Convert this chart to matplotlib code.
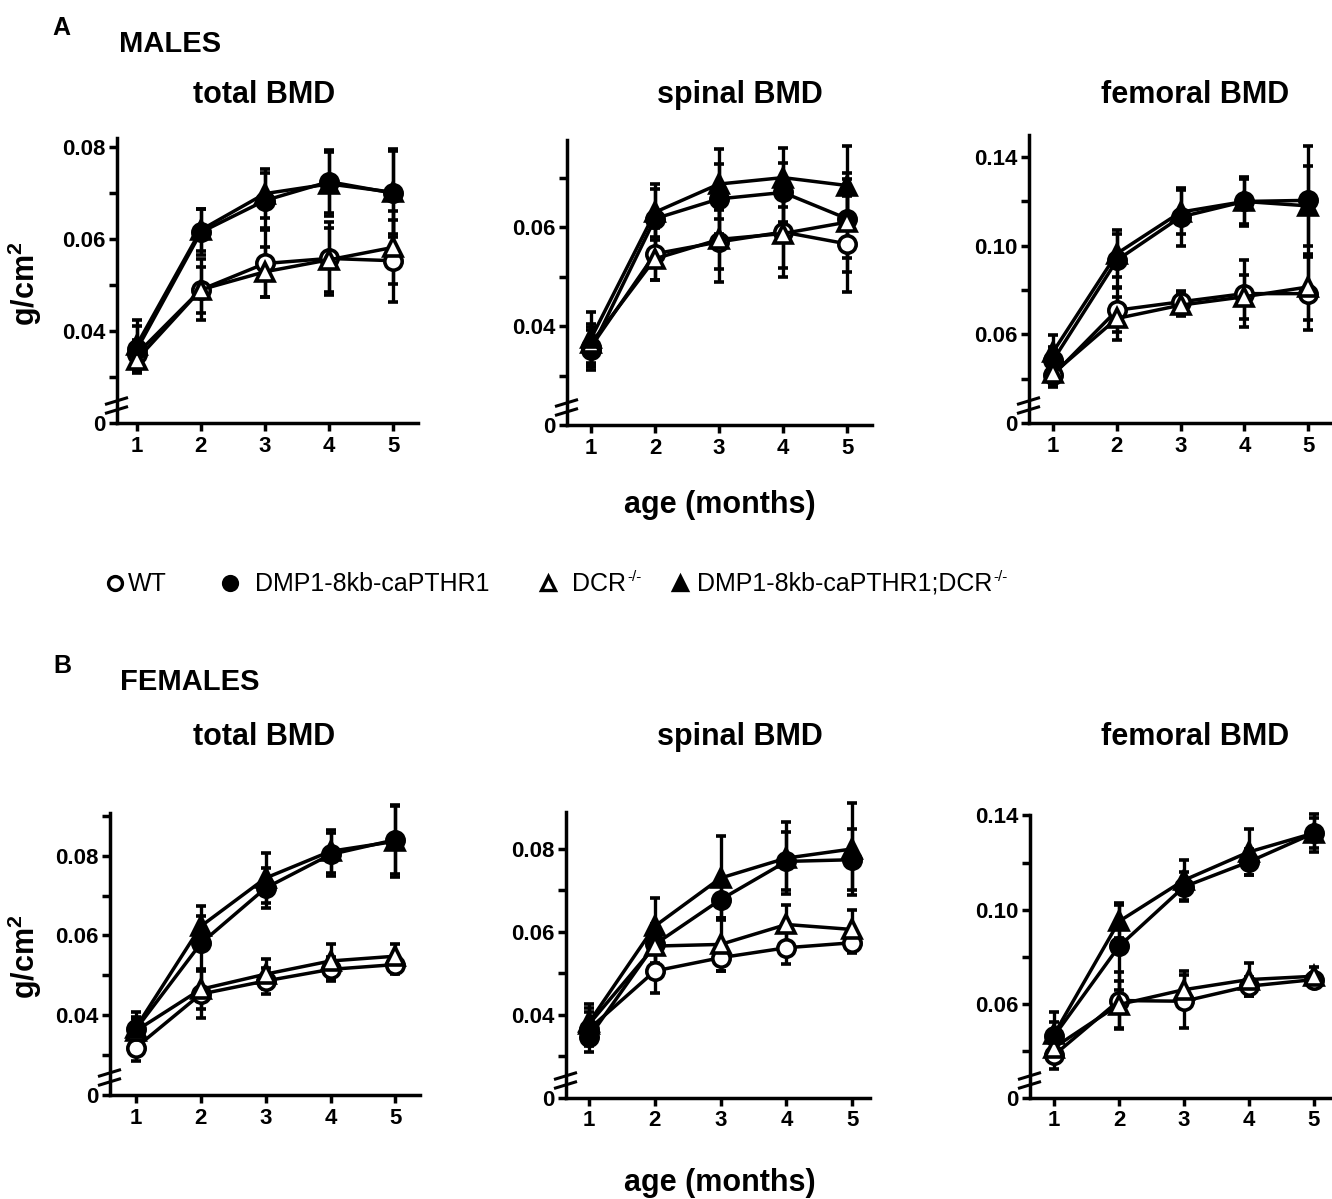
import matplotlib
matplotlib.use("Agg")
import matplotlib.pyplot as plt
from matplotlib.lines import Line2D
from matplotlib.ticker import FixedLocator

plt.rcParams['font.family'] = ['Liberation Sans', 'DejaVu Sans']
plt.rcParams['mathtext.fontset'] = 'custom'
plt.rcParams['mathtext.rm'] = 'Liberation Sans'
plt.rcParams['mathtext.bf'] = 'Liberation Sans:bold'

months = [1, 2, 3, 4, 5]
series_names = ["WT", "DMP1-8kb-caPTHR1", "DCR", "DMP1-8kb-caPTHR1;DCR"]
series_sup = ["", "", "-/-", "-/-"]

# ---- MALES ----
m_total_wt = [0.035, 0.049, 0.0547, 0.0558, 0.0553]
m_total_wt_err = [0.003, 0.0066, 0.0072, 0.0079, 0.0089]
m_total_ca = [0.036, 0.0615, 0.0684, 0.0725, 0.070]
m_total_ca_err = [0.005, 0.005, 0.006, 0.0068, 0.0096]
m_total_dcr = [0.0338, 0.049, 0.0529, 0.0555, 0.0582]
m_total_dcr_err = [0.003, 0.005, 0.0054, 0.007, 0.008]
m_total_both = [0.037, 0.062, 0.0699, 0.072, 0.0702]
m_total_both_err = [0.0054, 0.0045, 0.0054, 0.007, 0.009]

m_spine_wt = [0.0358, 0.0546, 0.057, 0.059, 0.0566]
m_spine_wt_err = [0.004, 0.0053, 0.008, 0.009, 0.0097]
m_spine_ca = [0.0352, 0.0617, 0.0657, 0.067, 0.0617]
m_spine_ca_err = [0.004, 0.006, 0.007, 0.006, 0.008]
m_spine_dcr = [0.0365, 0.0536, 0.0575, 0.0587, 0.061]
m_spine_dcr_err = [0.004, 0.0043, 0.006, 0.007, 0.010]
m_spine_both = [0.0375, 0.063, 0.0687, 0.070, 0.0684]
m_spine_both_err = [0.0054, 0.0057, 0.007, 0.006, 0.008]

m_fem_wt = [0.0417, 0.0709, 0.0747, 0.0784, 0.0784]
m_fem_wt_err = [0.0053, 0.010, 0.005, 0.015, 0.0164]
m_fem_ca = [0.0484, 0.0935, 0.113, 0.120, 0.1205]
m_fem_ca_err = [0.006, 0.012, 0.013, 0.011, 0.0245]
m_fem_dcr = [0.0424, 0.0672, 0.0732, 0.077, 0.0814]
m_fem_dcr_err = [0.005, 0.0098, 0.005, 0.010, 0.015]
m_fem_both = [0.0522, 0.0965, 0.1152, 0.120, 0.118]
m_fem_both_err = [0.0075, 0.0105, 0.010, 0.010, 0.018]

# ---- FEMALES ----
f_total_wt = [0.0319, 0.0453, 0.0486, 0.0515, 0.0527]
f_total_wt_err = [0.0033, 0.006, 0.0033, 0.003, 0.0024]
f_total_ca = [0.0365, 0.058, 0.0719, 0.0803, 0.084]
f_total_ca_err = [0.003, 0.007, 0.005, 0.0053, 0.0085]
f_total_dcr = [0.0361, 0.0465, 0.0503, 0.0536, 0.0548]
f_total_dcr_err = [0.003, 0.005, 0.0037, 0.0042, 0.003]
f_total_both = [0.0369, 0.0623, 0.0744, 0.0811, 0.0836]
f_total_both_err = [0.0038, 0.005, 0.0063, 0.0054, 0.009]

f_spine_wt = [0.0366, 0.0506, 0.0538, 0.0562, 0.0574]
f_spine_wt_err = [0.004, 0.0053, 0.0032, 0.004, 0.0024]
f_spine_ca = [0.0346, 0.057, 0.0678, 0.077, 0.0774]
f_spine_ca_err = [0.0036, 0.005, 0.0045, 0.007, 0.0074]
f_spine_dcr = [0.0378, 0.0566, 0.057, 0.0618, 0.0606]
f_spine_dcr_err = [0.004, 0.004, 0.0064, 0.0048, 0.0047]
f_spine_both = [0.0382, 0.0614, 0.073, 0.0778, 0.080]
f_spine_both_err = [0.0045, 0.0068, 0.010, 0.0086, 0.011]

f_fem_wt = [0.0382, 0.0614, 0.0611, 0.0675, 0.0703]
f_fem_wt_err = [0.006, 0.0122, 0.0112, 0.004, 0.003]
f_fem_ca = [0.0463, 0.0844, 0.1097, 0.1203, 0.1325]
f_fem_ca_err = [0.006, 0.0184, 0.0062, 0.0056, 0.0065]
f_fem_dcr = [0.0414, 0.0597, 0.066, 0.0703, 0.0717]
f_fem_dcr_err = [0.005, 0.010, 0.0078, 0.007, 0.004]
f_fem_both = [0.047, 0.095, 0.1125, 0.1245, 0.1325]
f_fem_both_err = [0.0095, 0.007, 0.0085, 0.0099, 0.0082]

panel_titles = ["total BMD", "spinal BMD", "femoral BMD"]
ytick_small = [0.04, 0.06, 0.08]
ytick_small_labels = ["0.04", "0.06", "0.08"]
ytick_big = [0.06, 0.10, 0.14]
ytick_big_labels = ["0.06", "0.10", "0.14"]

W, H = 1332, 1199
fig = plt.figure(figsize=(W / 100, H / 100), dpi=100)


def fx(x):
    return x / W


def fy(y):
    return 1 - y / H


styles = [
    dict(marker='o', mfc='white'),
    dict(marker='o', mfc='black'),
    dict(marker='^', mfc='white'),
    dict(marker='^', mfc='black'),
]


def make_axes(box, xlim, ylim, major, major_labels, minor, data):
    l, t, r, b = box
    ax = fig.add_axes([fx(l), fy(b), fx(r - l), (b - t) / H])
    for (vals, errs), st in zip(data, styles):
        ax.errorbar(months, vals, yerr=errs, color='black', lw=2.5,
                    elinewidth=2.4, capsize=3.5, capthick=2.8,
                    marker=st['marker'], mfc=st['mfc'], mec='black',
                    mew=2.6, ms=12.5 if st['marker'] == 'o' else 13,
                    clip_on=False)
    ax.set_xlim(*xlim)
    ax.set_ylim(*ylim)
    ax.set_xticks(months)
    ax.set_xticklabels([str(m) for m in months])
    ax.set_yticks([ylim[0]] + major)
    ax.set_yticklabels(["0"] + major_labels)
    ax.yaxis.set_minor_locator(FixedLocator(minor))
    for s in ['top', 'right']:
        ax.spines[s].set_visible(False)
    for s in ['left', 'bottom']:
        ax.spines[s].set_linewidth(2.5)
    ax.tick_params(axis='both', which='both', direction='out', width=2.5,
                   length=6, labelsize=16, pad=3)
    ax.tick_params(axis='y', pad=2)
    for lab in ax.get_xticklabels() + ax.get_yticklabels():
        lab.set_fontweight('bold')
    # axis break marks
    wpx, hpx = r - l, b - t
    for y0 in (13, 22):
        ax.plot([-12 / wpx, 11 / wpx], [(y0 - 3.5) / hpx, (y0 + 3.5) / hpx],
                transform=ax.transAxes, color='black', lw=2.2,
                clip_on=False, solid_capstyle='butt')
    return ax


# Males
make_axes((117, 138, 418, 423), (0.69, 5.39), (0.02, 0.082),
          ytick_small, ytick_small_labels, [0.03, 0.05, 0.07],
          [(m_total_wt, m_total_wt_err), (m_total_ca, m_total_ca_err),
           (m_total_dcr, m_total_dcr_err), (m_total_both, m_total_both_err)])
make_axes((567, 140, 872, 425), (0.625, 5.39), (0.02, 0.0776),
          ytick_small[:2], ytick_small_labels[:2], [0.03, 0.05, 0.07],
          [(m_spine_wt, m_spine_wt_err), (m_spine_ca, m_spine_ca_err),
           (m_spine_dcr, m_spine_dcr_err), (m_spine_both, m_spine_both_err)])
make_axes((1029, 135, 1332, 423), (0.62, 5.375), (0.02, 0.150),
          ytick_big, ytick_big_labels, [0.04, 0.08, 0.12],
          [(m_fem_wt, m_fem_wt_err), (m_fem_ca, m_fem_ca_err),
           (m_fem_dcr, m_fem_dcr_err), (m_fem_both, m_fem_both_err)])

# Females
make_axes((110, 813, 420, 1095), (0.6, 5.38), (0.02, 0.0907),
          ytick_small, ytick_small_labels, [0.03, 0.05, 0.07, 0.09],
          [(f_total_wt, f_total_wt_err), (f_total_ca, f_total_ca_err),
           (f_total_dcr, f_total_dcr_err), (f_total_both, f_total_both_err)])
make_axes((566, 812, 870, 1098), (0.65, 5.27), (0.02, 0.0889),
          ytick_small, ytick_small_labels, [0.03, 0.05, 0.07],
          [(f_spine_wt, f_spine_wt_err), (f_spine_ca, f_spine_ca_err),
           (f_spine_dcr, f_spine_dcr_err), (f_spine_both, f_spine_both_err)])
make_axes((1030, 815, 1332, 1098), (0.63, 5.28), (0.02, 0.1402),
          ytick_big, ytick_big_labels, [0.04, 0.08, 0.12],
          [(f_fem_wt, f_fem_wt_err), (f_fem_ca, f_fem_ca_err),
           (f_fem_dcr, f_fem_dcr_err), (f_fem_both, f_fem_both_err)])

# Texts
bold = dict(fontweight='bold', color='black')
fig.text(fx(52), fy(35), "A", fontsize=18, ha='left', va='baseline', **bold)
fig.text(fx(119), fy(52), "MALES", fontsize=21, ha='left', va='baseline', **bold)
fig.text(fx(53), fy(673), "B", fontsize=18, ha='left', va='baseline', **bold)
fig.text(fx(120), fy(690), "FEMALES", fontsize=21, ha='left', va='baseline', **bold)

for cx, title in zip([264, 740, 1195], panel_titles):
    fig.text(fx(cx), fy(103), title, fontsize=22, ha='center', va='baseline', **bold)
    fig.text(fx(cx), fy(745), title, fontsize=22, ha='center', va='baseline', **bold)

fig.text(fx(720), fy(513), "age (months)", fontsize=22, ha='center', va='baseline', **bold)
fig.text(fx(720), fy(1191), "age (months)", fontsize=22, ha='center', va='baseline', **bold)

ylab = r"g/cm$^{\mathbf{2}}$"
fig.text(fx(25), fy(284), ylab, fontsize=22, rotation=90, ha='center',
         va='center', **bold)
fig.text(fx(25), fy(957), ylab, fontsize=22, rotation=90, ha='center',
         va='center', **bold)

# Legend
leg_marker_x = [115, 230, 548, 680]
leg_text_x = [128, 255, 572, 697]
leg_baseline = 591
renderer = fig.canvas.get_renderer()
for mx, tx, st, name, sup in zip(leg_marker_x, leg_text_x, styles,
                                 series_names, series_sup):
    fig.add_artist(Line2D([fx(mx)], [fy(leg_baseline - 8)],
                          transform=fig.transFigure,
                          marker=st['marker'], mfc=st['mfc'], mec='black',
                          mew=2.4, ms=10, ls='none'))
    t = fig.text(fx(tx), fy(leg_baseline), name, fontsize=18, ha='left',
                 va='baseline', color='black')
    if sup:
        bb = t.get_window_extent(renderer=renderer)
        fig.text(fx(bb.x1 + 1), fy(leg_baseline - 10), sup, fontsize=11,
                 ha='left', va='baseline', color='black')

fig.savefig("out.png", dpi=100)
